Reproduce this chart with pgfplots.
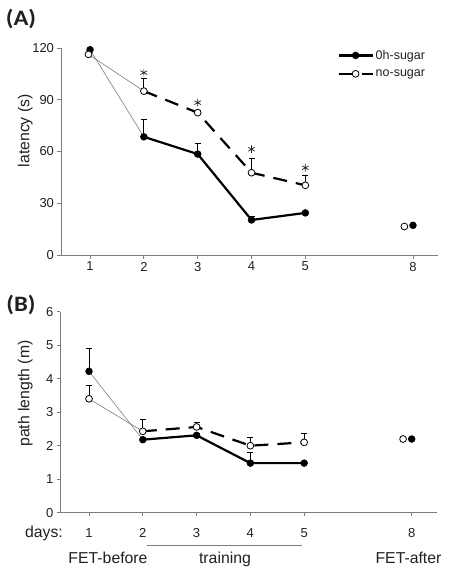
\documentclass[border=0pt]{standalone}
\usepackage{pgfplots}
\pgfplotsset{compat=1.18}
\usepackage{fontspec}
\setmainfont{Liberation Sans}
\newfontfamily\panelfont{Carlito}
\definecolor{axgray}{RGB}{125,125,125}
\definecolor{txt}{RGB}{35,31,32}
\pgfplotsset{
  panel/.style={
    scale only axis,
    axis lines*=left,
    axis line style={-, axgray, line width=0.9pt},
    tick style={axgray, line width=0.8pt},
    major tick length=3.5pt,
    tick align=outside,
    xmin=0.46, xmax=7.465,
    xtick={1,2,3,4,5,7},
    xticklabels={1,2,3,4,5,8},
    /pgf/number format/assume math mode=true,
    ticklabel style={font=\fontsize{13}{15}\selectfont, text=txt},
    label style={font=\fontsize{15.8}{18}\selectfont, text=txt},
    clip=false,
  },
  thinline/.style={axgray, line width=0.6pt, no markers, forget plot},
  filledser/.style={black, line width=2.2pt, mark=*, mark size=3.4pt,
     mark options={solid, fill=black, line width=0.6pt},
     error bars/.cd, y dir=plus, y explicit,
     error bar style={line width=0.8pt, solid, black},
     error mark options={rotate=90, mark size=3pt, line width=0.8pt, black},
     /pgfplots/.cd},
  openser/.style={black, line width=2.2pt, dash pattern=on 14pt off 9pt, mark=*, mark size=3.4pt,
     mark options={solid, fill=white, draw=black, line width=0.8pt},
     error bars/.cd, y dir=plus, y explicit,
     error bar style={line width=0.8pt, solid, black},
     error mark options={rotate=90, mark size=3pt, line width=0.8pt, black},
     /pgfplots/.cd},
  filledpt/.style={only marks, mark=*, mark size=3.4pt, mark options={fill=black, draw=black, line width=0.6pt}, forget plot},
  openpt/.style={only marks, mark=*, mark size=3.4pt, mark options={fill=white, draw=black, line width=0.8pt}, forget plot},
  upbars/.style={error bars/.cd, y dir=plus, y explicit,
     error bar style={line width=0.8pt, black},
     error mark options={rotate=90, mark size=3pt, line width=0.8pt, black},
     /pgfplots/.cd},
}
\begin{document}
\begin{tikzpicture}
\path[use as bounding box] (0pt,0pt) rectangle (449pt,-567pt);

% ---------------- Panel A ----------------
\begin{axis}[panel,
  at={(61pt,-255pt)}, anchor=south west,
  width=377pt, height=207pt,
  ymin=0, ymax=120, ytick={0,30,60,90,120},
  ylabel={latency (s)},
  ylabel style={at={(axis description cs:-0.095,0.6)}, anchor=center},
  legend style={draw=none, fill=none, at={(axis description cs:0.725,1.01)}, anchor=north west,
     font=\fontsize{12.5}{14}\selectfont, text=txt, row sep=5pt,
     legend cell align=left},
  legend image code/.code={\draw[mark repeat=2,mark phase=2,#1] plot coordinates {(0pt,0pt)(17pt,0pt)(34pt,0pt)};},
]
\addplot[thinline] coordinates {(1,119) (2,68.5)};
\addplot[thinline] coordinates {(0.97,116.3) (2,95)};
\addplot[filledser] coordinates {
 (2,68.5) +- (0,10.3)
 (3,58.5) +- (0,6.2)
 (4,20.3) +- (0,1.8)
 (5,24.4) +- (0,1.0)
};
\addlegendentry{0h-sugar}
\addplot[openser] coordinates {
 (2,95.0) +- (0,7.4)
 (3,82.5) +- (0,1.5)
 (4,47.7) +- (0,8.3)
 (5,40.4) +- (0,6.0)
};
\addlegendentry{no-sugar}
\addplot[filledpt] coordinates {(1,119) (7,17.2)};
\addplot[openpt] coordinates {(0.97,116.3) (6.84,16.5)};
\addplot[only marks, mark=asterisk, mark size=3.8pt, mark options={line width=0.7pt, txt}, forget plot]
  coordinates {(2,105.7) (3,88.3) (4,61.3) (5,50.6)};
\end{axis}

% ---------------- Panel B ----------------
\begin{axis}[panel,
  at={(60.3pt,-512.7pt)}, anchor=south west,
  width=376.4pt, height=201pt,
  xmin=0.466,
  ymin=0, ymax=6, ytick={0,1,2,3,4,5,6},
  xticklabel shift=9pt,
  ylabel={path length (m)},
  ylabel style={at={(axis description cs:-0.093,0.593)}, anchor=center},
]
\addplot[thinline] coordinates {(1,4.22) (2,2.18)};
\addplot[thinline] coordinates {(1,3.40) (2,2.43)};
\addplot[forget plot, filledser] coordinates {
 (2,2.18) +- (0,0.05)
 (3,2.31) +- (0,0.05)
 (4,1.48) +- (0,0.32)
 (5,1.48) +- (0,0.04)
};
\addplot[forget plot, openser] coordinates {
 (2,2.43) +- (0,0.36)
 (3,2.56) +- (0,0.14)
 (4,2.00) +- (0,0.25)
 (5,2.10) +- (0,0.28)
};
\addplot[filledpt, upbars]
  coordinates {(1,4.22) +- (0,0.68) (7,2.2) +- (0,0)};
\addplot[openpt, upbars]
  coordinates {(1,3.40) +- (0,0.41) (6.84,2.2) +- (0,0)};
\end{axis}

% panel labels and annotations
\node[font=\panelfont\bfseries\fontsize{22}{24}\selectfont, text=txt, xscale=1.12] at (21pt,-19.5pt) {(A)};
\node[font=\panelfont\bfseries\fontsize{22}{24}\selectfont, text=txt, xscale=1.12] at (21pt,-304.5pt) {(B)};
\node[anchor=base east, font=\fontsize{15.8}{18}\selectfont, text=txt, inner sep=0pt] at (63pt,-537pt) {days:};
\node[anchor=base, font=\fontsize{15.8}{18}\selectfont, text=txt, inner sep=0pt] at (108pt,-563.5pt) {FET-before};
\node[anchor=base, font=\fontsize{15.8}{18}\selectfont, text=txt, inner sep=0pt] at (225pt,-563.5pt) {training};
\node[anchor=base, font=\fontsize{15.8}{18}\selectfont, text=txt, inner sep=0pt] at (408.5pt,-563.5pt) {FET-after};
\draw[axgray, line width=0.8pt] (146.7pt,-545pt) -- (302.3pt,-545pt);
\end{tikzpicture}
\end{document}
